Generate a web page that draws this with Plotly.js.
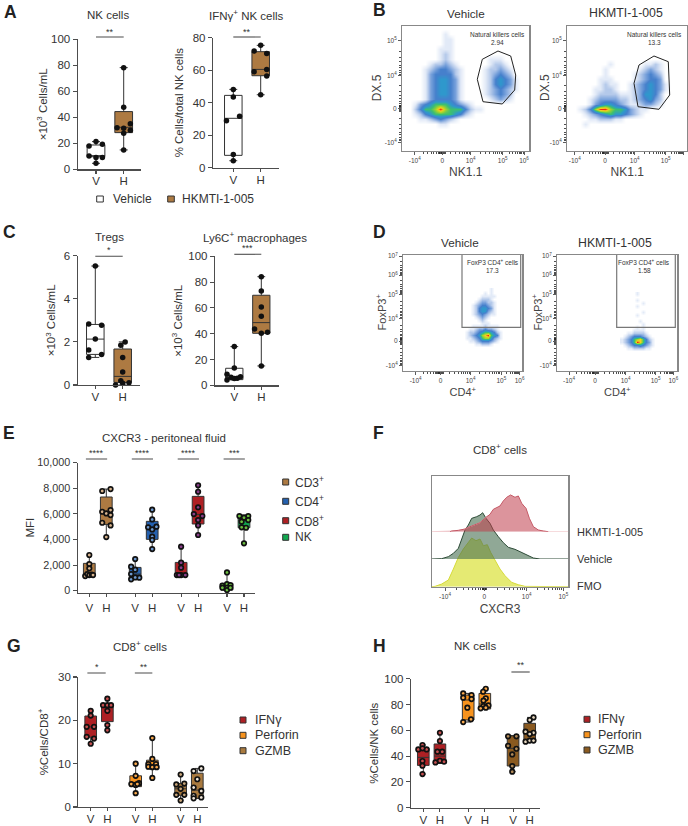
<!DOCTYPE html>
<html><head><meta charset="utf-8">
<script src="https://cdn.plot.ly/plotly-3.0.1.min.js"></script>
<style>html,body{margin:0;padding:0;background:#fff}</style></head>
<body><div id="chart" style="width:688px;height:826px"></div>
<script>
// ---------- DATA: box stats are [low, q1, median, q3, high]; dx = horizontal spread of the dots
const nkV=[21.3,18,19.2,10.3,9,9,4.6], nkVdx=[0,-.25,.23,-.25,.23,0,0], nkVbox=[4.6,9.7,10.5,18.7,21.3];
const nkH=[78.2,47.7,32,31.5,35,30,27.7,14.9], nkHdx=[0,0,-.24,0,.24,.24,0,0], nkHbox=[14.9,28.2,32.3,44.4,78.2];
const ifnV=[48.2,43.5,28.9,31.6,8.2,4.3], ifnVdx=[0,0,-.25,.23,0,0], ifnVbox=[4.3,7.6,30.4,44.5,48.2];
const ifnH=[75.3,71.8,70.2,59,60.5,56.4,44.9], ifnHdx=[0,-.24,.22,-.24,.22,.22,0], ifnHbox=[44.9,56.6,60.5,71.4,75.3];
const trV=[5.52,2.83,2.77,2.13,1.62,1.42,1.28], trVdx=[0,-.24,.23,0,-.24,.23,-.24], trVbox=[1.28,1.42,2.13,2.81,5.52];
const trH=[2,1.84,1.28,.6,.2,0,.08,.11], trHdx=[.09,-.07,0,0,-.07,-.26,0,.23], trHbox=[0,.12,.4,1.67,2];
const lyV=[30,13.4,8.5,4.1,6.2,5.2,5.4,6.7], lyVdx=[0,0,-.27,-.27,-.12,0,.11,.23], lyVbox=[4.1,4.4,6,13.2,30];
const lyH=[84.2,73.1,60.7,53.5,43.7,40.3,41.1,15], lyHdx=[0,0,0,0,-.25,0,.23,0], lyHbox=[15,40.3,48.6,69.8,84.2];

const cd3V=[2790,2080,1745,1145,1300,1220,1250,1220], cd3Vdx=[0,0,0,-.24,-.12,0,.14,.22], cd3Vbox=[1145,1145,1300,2135,2790];
const cd3H=[7940,7790,6170,6300,6040,5910,5310,5100,4190], cd3Hdx=[.25,-.24,-.24,.25,0,.25,-.24,.25,0], cd3Hbox=[4190,5180,6120,7320,7940];
const cd4V=[2470,1875,1640,1300,885,1015,1040], cd4Vdx=[0,-.24,0,-.24,-.24,.24,0], cd4Vbox=[885,940,1300,1820,2470];
const cd4H=[6330,5570,5000,4950,4790,4220,3960,3255], cd4Hdx=[0,0,.25,-.24,0,0,0,0], cd4Hbox=[3255,4010,4870,5420,6330];
const cd8V=[3440,2190,1800,1220,1220,1220,1220], cd8Vdx=[0,0,0,-.25,0,.25,-.12], cd8Vbox=[1100,1100,1300,2210,3440];
const cd8H=[8230,7730,6510,5990,5830,5520,5100,4350], cd8Hdx=[0,0,0,-.25,.25,0,0,0], cd8Hbox=[4350,5210,5960,7370,8230];
const mfiNkV=[1430,390,520,440,230,230,50,230], mfiNkVdx=[0,-.27,0,.2,-.27,0,0,.2], mfiNkVbox=[50,50,310,570,1430];
const mfiNkH=[3700,5830,5830,5700,5520,5390,4950,4920], mfiNkHdx=[0,-.27,.25,0,.25,-.14,-.14,.12], mfiNkHbox=[3700,4920,5500,5910,5910];

const g1V=[22.2,21.1,18.5,18.5,16.2,15.8,14.6], g1Vdx=[0,0,-.24,.2,-.24,.2,0], g1Vbox=[14.6,16.1,18.5,21,22.2];
const g1H=[25,23.5,23.5,23.5,22.2,18.9,17.7], g1Hdx=[0,-.26,0,.22,0,0,0], g1Hbox=[17.7,19.7,23,23.6,25];
const g2V=[10,7.2,5.3,5.5,5.1,5.3,3.2], g2Vdx=[0,0,-.26,.2,0,.1,0], g2Vbox=[3.2,4.7,5.5,7.2,10];
const g2H=[15.9,11.1,9.9,9.9,9.3,9.2,9.2,6.7], g2Hdx=[0,0,-.24,.22,-.24,0,.26,0], g2Hbox=[6.7,8.8,9.7,10.8,15.9];
const g3V=[7.5,5.2,5.4,4.2,2.8,2.8,1.5], g3Vdx=[0,-.26,.22,0,-.26,.22,0], g3Vbox=[1.5,2.7,4.2,5.4,7.5];
const g3H=[8.9,8.3,6.4,4.5,3.7,2.6,2,2.2], g3Hdx=[.24,-.22,0,-.22,.24,-.22,-.22,.24], g3Hbox=[2,2,3.9,7.8,8.9];

const h1V=[48.6,45.2,45.2,46,36.2,32.6,26.1], h1Vdx=[-.05,-.3,.2,-.05,-.05,-.05,-.05], h1Vbox=[26.1,32.8,39,46,48.6];
const h1H=[58.1,51.7,43.4,43.4,35.1,36.4,35.7], h1Hdx=[0,0,-.15,.14,-.27,0,.25], h1Hbox=[34.4,34.4,40,49.4,58.1];
const h2V=[88.6,87.3,85.3,84.2,77.5,68.5,66.4], h2Vdx=[-.3,.2,-.3,.2,-.05,.17,-.3], h2Vbox=[66.4,68,83.5,87.3,88.6];
const h2H=[92.2,89.9,84.8,83,79.3,78.8,77,77.5], h2Hdx=[.06,-.1,.06,-.08,.22,-.08,-.25,.06], h2Hbox=[76.5,76.5,80.4,88.6,92.2];
const h3V=[55.3,55.3,48,45.7,41.3,32.3,27.9], h3Vdx=[-.3,.2,-.3,.2,-.05,-.05,-.05], h3Vbox=[27.9,32.3,46,55.8,55.8];
const h3H=[70,68,58.9,58.1,57.1,51.2,52,52], h3Hdx=[.23,0,-.25,.23,0,-.25,0,.23], h3Hbox=[51.2,51.2,58,65.4,70];

// Flow cytometry density grids (0 = empty … 9 = hottest), rows top to bottom
const bVehicle=[
"0000000000000000000000000","0000000010000000000000000","0000000011000000000000000","0000000011000000000000000",
"0000000111000000000000000","0000000121000000000000000","0000000121000000011100000","0000012232100000012210000",
"0000123443210000122321000","0000134444210000123432000","0000134554310000124543100","0000134554310000124543100",
"0000134554310000123432100","0000134554310000123432000","0000134444310000012321000","0013456665432100000000000",
"0024667976664211000000000","0012456666542100000000000","0001123432100000000000000","0000000110000000000000000",
"0000000000000000000000000","0000000000000000000000000","0000000000000000000000000","0000000000000000000000000","0000000000000000000000000"];
const bHkmti=[
"000000000000000000000000","000000000000000000000000","000000000000000000000000","000000000000000000000000",
"000000000000000000000000","000000000000000000000000","000000000000000000000000","000000001000000112100000",
"000000010000001232100000","000000010000012343200000","000000111000012344300000","000000121100123454310000",
"000001122100123454310000","000001222211123554200000","000012333322123453200000","000013455432112332100000",
"001247997665321100000000","000123456554321000000000","000011222110000000000000","000100000000000000000000",
"000000000000000000000000","000000000000000000000000","000000000000000000000000","000000000000000000000000"];
const dVehicle=[
"000000000100000","000000010100000","000000111110000","000001222100000","000012332210000","000123443210000",
"000124554310000","000124553210000","000123432110000","000012321000000","000001210000000","000000111000000",
"000111121111000","001123343321000","012234566542100","012345789654100","011234677532100","001123444321000",
"000011222100000","000000000000000"];
const dHkmti=[
"0000010000000","0000000000000","0000010000000","0000000100000","0000010000000","0000000000000","0000000100000",
"0000010000000","0000000000000","0000001000000","0000000100000","0000010100000","0000111100000","0011222210000",
"0123444321000","1234678642100","1234698643100","0123445432100","0011222211000","0000000000000"];
const gateBVehicleX=[95.7,108.4,113.4,112.4,100,80.7,75,80,95.7], gateBVehicleY=[25,30,49,64,78,75.7,53.3,33.3,25];
const gateBHkmtiX=[86.7,101,102.4,91.7,70.7,66.7,71.7,86.7], gateBHkmtiY=[30,35.7,69,83.3,80.7,57.3,39,30];
const gateDVehicleX=[58.7,58.7,117.4,117.4], gateDVehicleY=[0,72.3,72.3,0];
const gateDHkmtiX=[59.4,59.4,118,118], gateDHkmtiY=[0,72.3,72.3,0];

// CXCR3 histograms (channel, height)
const histHkX=[0,55,60,80,100,110,125,145,163,175,185,195,205,215,225,237,250,260,270,283,293,305,320,335,350,410];
const histHkY=[0,0,2,4,8,13,20,27,43,52,67,73,77,92,103,110,103,107,85,70,40,15,5,2,0,0];
const histVehX=[0,5,30,50,65,80,90,100,110,120,135,145,153,163,175,185,200,215,230,250,265,285,305,325,410];
const histVehY=[0,0,1,7,17,32,57,87,102,122,127,132,139,122,107,87,67,49,35,29,22,12,3,0,0];
const histFmoX=[0,10,30,50,65,80,95,110,120,133,145,155,167,177,190,205,220,240,260,280,410];
const histFmoY=[0,1,8,20,53,88,113,133,146,138,143,123,126,103,78,53,33,13,6,1,0];

const legendE=['CD3<sup>+</sup>','CD4<sup>+</sup>','CD8<sup>+</sup>','NK'];
const legendCyt=['IFNγ','Perforin','GZMB'];

// ---------- STYLES
const W=688,H=826,FONT='"Liberation Sans",Arial,sans-serif',AX='#4d4d4d',TXT='#333333';
const BROWN='#ad7a42',BLUE='#2460ae',RED='#ae2024',GREEN='#12a850',ORANGE='#f7931e',BROWN2='#a97a3f',BROWN3='#8a5a20';
const traces=[],shapes=[],ann=[],layout={};
const xd=(a,b)=>[a/W,b/W], yd=(t,b)=>[1-b/H,1-t/H];
function T(text,x,y,size,o){ann.push(Object.assign({text,x:x/W,y:1-y/H,xref:'paper',yref:'paper',showarrow:false,
  xanchor:'center',yanchor:'middle',font:{size,color:TXT,family:FONT}},o||{}));}
function Sig(x0,x1,y,sy,s,xa){
  shapes.push({type:'line',xref:xa,yref:'paper',x0,x1,y0:1-y/H,y1:1-y/H,line:{color:AX,width:1.1}});
  ann.push({text:s,x:(x0+x1)/2,y:1-sy/H,xref:xa,yref:'paper',showarrow:false,yanchor:'middle',font:{size:9,color:TXT,family:FONT}});
}
function Sq(l,r,t,b,c){shapes.push({type:'rect',xref:'paper',yref:'paper',x0:l/W,x1:r/W,y0:1-b/H,y1:1-t/H,fillcolor:c,line:{color:'#333',width:1}});}

// box panel
function boxPanel(n,g){
  const xa='xaxis'+n,ya='yaxis'+n;
  const s=(g.px[1]-g.px[0])/(g.pos[g.pos.length-1]-g.pos[0]);
  const xmin=g.pos[0]-(g.px[0]-g.l)/s, xmax=g.pos[g.pos.length-1]+(g.r-g.px[1])/s;
  const labs=g.pos.map((_,i)=>i%2?'H':'V');
  layout[xa]={domain:xd(g.l,g.r),range:[xmin,xmax],anchor:'y'+n,tickmode:'array',tickvals:g.pos,ticktext:labs,
    showgrid:false,zeroline:false,showline:true,linecolor:AX,linewidth:1.2,ticks:'outside',ticklen:3,tickcolor:AX,tickwidth:1.1,
    ticklabelstandoff:g.lso||0,tickfont:{size:11.5,color:TXT,family:FONT}};
  layout[ya]={domain:yd(g.top,g.bot),range:g.yr,anchor:'x'+n,tickmode:'array',tickvals:g.yt,ticktext:g.ytxt||g.yt.map(String),
    showgrid:false,zeroline:false,showline:true,linecolor:AX,linewidth:1.2,ticks:'outside',ticklen:4,tickcolor:AX,tickwidth:1.1,
    tickfont:{size:g.ytf||11.5,color:TXT,family:FONT},
    title:{text:g.yt_title,standoff:g.so,font:{size:g.ttf||11.5,color:TXT,family:FONT}}};
  g.sets.forEach((d,i)=>{
    const p=g.pos[i],b=d.box;
    traces.push({type:'box',x:[p],lowerfence:[b[0]],q1:[b[1]],median:[b[2]],q3:[b[3]],upperfence:[b[4]],
      width:g.bw,whiskerwidth:.45,fillcolor:d.fill,line:{color:'#333',width:1},boxpoints:false,showlegend:false,
      xaxis:'x'+n,yaxis:'y'+n,hoverinfo:'skip'});
    traces.push({type:'scatter',mode:'markers',x:d.y.map((_,k)=>p+d.dx[k]*g.dxs),y:d.y,cliponaxis:false,showlegend:false,
      marker:{size:g.ms,color:d.dot,line:{color:'#111',width:g.mlw}},xaxis:'x'+n,yaxis:'y'+n,hoverinfo:'skip'});
  });
}
const D=(y,dx,box,fill,dot)=>({y,dx,box,fill,dot});

boxPanel(1,{l:77.7,r:141,top:39.3,bot:169.3,pos:[1,2],px:[96,123.7],yr:[0,100],yt:[0,20,40,60,80,100],lso:-2,
  yt_title:'×10<sup>3</sup> Cells/mL',so:1,bw:.64,dxs:1,ms:5.5,mlw:0,
  sets:[D(nkV,nkVdx,nkVbox,'#fff','#111'),D(nkH,nkHdx,nkHbox,BROWN,'#111')]});
boxPanel(2,{l:213,r:278.7,top:37.7,bot:167.7,pos:[1,2],px:[233.3,260.7],yr:[0,80],yt:[0,20,40,60,80],lso:-2,
  yt_title:'% Cells/total NK cells',so:6,bw:.64,dxs:1,ms:5.5,mlw:0,
  sets:[D(ifnV,ifnVdx,ifnVbox,'#fff','#111'),D(ifnH,ifnHdx,ifnHbox,BROWN,'#111')]});
boxPanel(3,{l:77.7,r:140,top:255.7,bot:385,pos:[1,2],px:[95.3,122.7],yr:[0,6],yt:[0,2,4,6],lso:-2,
  yt_title:'×10<sup>3</sup> Cells/mL',so:5,bw:.64,dxs:1,ms:5.5,mlw:0,
  sets:[D(trV,trVdx,trVbox,'#fff','#111'),D(trH,trHdx,trHbox,BROWN,'#111')]});
boxPanel(4,{l:215,r:279.3,top:256.3,bot:385.3,pos:[1,2],px:[234.3,261.3],yr:[0,100],yt:[0,20,40,60,80,100],lso:-2,
  yt_title:'×10<sup>3</sup> Cells/mL',so:3,bw:.64,dxs:1,ms:5.5,mlw:0,
  sets:[D(lyV,lyVdx,lyVbox,'#fff','#111'),D(lyH,lyHdx,lyHbox,BROWN,'#111')]});
const P8=[0,1,2.7,3.7,5.4,6.4,8.1,9.1],P6=[0,1,2.7,3.7,5.4,6.4];
boxPanel(5,{l:77.7,r:255,top:462.7,bot:592.7,pos:P8,px:[89.3,244],yr:[-156,10000],yt:[0,2000,4000,6000,8000,10000],ytf:10.8,
  ytxt:['0','2,000','4,000','6,000','8,000','10,000'],yt_title:'MFI',so:0,bw:.69,dxs:1,ms:4.5,mlw:1.7,lso:1,
  sets:[D(cd3V,cd3Vdx,cd3Vbox,BROWN,'#d8b48e'),D(cd3H,cd3Hdx,cd3Hbox,BROWN,'#d8b48e'),
        D(cd4V,cd4Vdx,cd4Vbox,BLUE,'#6f9ad0'),D(cd4H,cd4Hdx,cd4Hbox,BLUE,'#6f9ad0'),
        D(cd8V,cd8Vdx,cd8Vbox,RED,'#8a3f8a'),D(cd8H,cd8Hdx,cd8Hbox,RED,'#8a3f8a'),
        D(mfiNkV,mfiNkVdx,mfiNkVbox,GREEN,'#6cc040'),D(mfiNkH,mfiNkHdx,mfiNkHbox,GREEN,'#6cc040')]});
boxPanel(6,{l:78.3,r:208.3,top:677,bot:807,pos:P6,px:[90.7,197.3],yr:[0,30],yt:[0,10,20,30],
  yt_title:'%Cells/CD8<sup>+</sup>',so:7,bw:.7,dxs:1,ms:4.5,mlw:1.7,lso:-2,
  sets:[D(g1V,g1Vdx,g1Vbox,RED,'#c65050'),D(g1H,g1Hdx,g1Hbox,RED,'#c65050'),
        D(g2V,g2Vdx,g2Vbox,ORANGE,'#f9a94d'),D(g2H,g2Hdx,g2Hbox,ORANGE,'#f9a94d'),
        D(g3V,g3Vdx,g3Vbox,BROWN2,'#c9a67a'),D(g3H,g3Hdx,g3Hbox,BROWN2,'#f3e9dc')]});
boxPanel(7,{l:411,r:540,top:678.7,bot:807.7,pos:P6,px:[423.3,529.7],yr:[0,100],yt:[0,20,40,60,80,100],
  yt_title:'%Cells/NK cells',so:3,bw:.7,dxs:1,ms:4.5,mlw:1.7,lso:-2,
  sets:[D(h1V,h1Vdx,h1Vbox,RED,'#c65050'),D(h1H,h1Hdx,h1Hbox,RED,'#c65050'),
        D(h2V,h2Vdx,h2Vbox,ORANGE,'#f9a94d'),D(h2H,h2Hdx,h2Hbox,ORANGE,'#f9a94d'),
        D(h3V,h3Vdx,h3Vbox,BROWN3,'#b08a5a'),D(h3H,h3Hdx,h3Hbox,BROWN3,'#e8d8c0')]});

Sig(1,2,37,32,'**','x1');Sig(1,2,37,32,'**','x2');Sig(1,2,256.3,250,'*','x3');Sig(1,2,254.3,247.7,'***','x4');
[[0,1,'****'],[2.7,3.7,'****'],[5.4,6.4,'****'],[8.1,9.1,'***']].forEach(a=>Sig(a[0]-.2,a[1]+.05,459,452.7,a[2],'x5'));
Sig(-.2,.9,673,666.7,'*','x6');Sig(2.65,3.7,673,666.7,'**','x6');Sig(5.3,6.4,672,665,'**','x7');

// flow panels
const THIN='#888';
function minorList(maj){const o=[];
  for(let i=0;i<maj.length-1;i++){for(let k=2;k<10;k++)o.push(maj[i]+(maj[i+1]-maj[i])*Math.log10(k));}
  return o;}
function flowAxes(n,r,xt,xl,yt,yl,xtitle,xso,tf){
  const W1=r.r-r.l,H1=r.b-r.t;
  layout['xaxis'+n]={domain:xd(r.l,r.r),range:[0,W1],anchor:'y'+n,mirror:true,showline:true,linecolor:THIN,linewidth:1.3,
    showgrid:false,zeroline:false,tickmode:'array',tickvals:xt,ticktext:xl,ticks:'outside',ticklen:3,tickcolor:'#333',tickwidth:.8,
    tickfont:{size:6.5,color:'#444',family:FONT},
    minor:{tickmode:'array',tickvals:minorList(xt).concat(r.zx?[-3,-2,-1,1,2,3].map(d=>r.zx+d):[]),ticks:'outside',ticklen:2,tickcolor:'#222',tickwidth:.8},
    title:xtitle?{text:xtitle,standoff:xso,font:{size:tf,color:'#444',family:FONT}}:undefined};
  layout['yaxis'+n]={domain:yd(r.t,r.b),range:[H1,0],anchor:'x'+n,mirror:true,showline:true,linecolor:THIN,linewidth:1.3,
    showgrid:false,zeroline:false,tickmode:'array',tickvals:yt,ticktext:yl,ticks:'outside',ticklen:3,tickcolor:'#333',tickwidth:.8,
    tickfont:{size:6.5,color:'#444',family:FONT},
    minor:{tickmode:'array',tickvals:minorList(yt).concat([-3,-2,-1,1,2,3].map(d=>r.zy+d)),ticks:'outside',ticklen:2,tickcolor:'#222',tickwidth:.8}};
}
const CS=[[0,'#ffffff'],[1/9,'#e2eaf7'],[2/9,'#b4c9ea'],[3/9,'#7ba3dc'],[4/9,'#4680cc'],[5/9,'#2f98cc'],[6/9,'#3cc070'],[7/9,'#a4d42c'],[8/9,'#f8cf1e'],[1,'#ee2a12']];
function density(n,rows,x0,y0,step){
  const z=rows.map(s=>s.split('').map(Number));
  traces.push({type:'heatmap',z,x:z[0].map((_,i)=>x0+step*i),y:z.map((_,i)=>y0+step*i),zmin:0,zmax:9,zsmooth:'best',
    colorscale:CS,showscale:false,xaxis:'x'+n,yaxis:'y'+n,hoverinfo:'skip'});
}
function gate(n,x,y,c,w){traces.push({type:'scatter',mode:'lines',x,y,line:{color:c,width:w},showlegend:false,xaxis:'x'+n,yaxis:'y'+n,hoverinfo:'skip'});}

const pw=['-10<sup>4</sup>','0','10<sup>4</sup>','10<sup>5</sup>','10<sup>6</sup>'];
const by=[14.7,49.7,82.3,116.3],byl=['10<sup>5</sup>','10<sup>4</sup>','0','-10<sup>4</sup>'];
flowAxes(8,{l:402.3,r:529.3,t:26,b:150.7,zx:40,zy:82.3},[12.4,40,68.4,100.4,121.7],pw,by,byl,'NK1.1',4,12);
flowAxes(9,{l:567.3,r:687.3,t:26,b:150.7,zx:37.7,zy:82.3},[7.4,37.7,67.4,98.4,116],pw,by,byl,'NK1.1',4,12);
const dy=[1,20,39.3,63.3,86,110.7],dyl=['10<sup>7</sup>','10<sup>6</sup>','10<sup>5</sup>','10<sup>4</sup>','0','-10<sup>4</sup>'];
flowAxes(10,{l:403.3,r:522.3,t:255,b:371,zx:37.3,zy:86},[12.3,37.3,67.3,98,116.3],pw,dy,dyl,'CD4<sup>+</sup>',5,11);
flowAxes(11,{l:557.3,r:677.3,t:255,b:371,zx:37.7,zy:86},[11.7,37.7,68.3,98.3,116],pw,dy,dyl,'CD4<sup>+</sup>',5,11);
T('DX.5',377.3,88,12,{textangle:-90,font:{size:12,color:'#444',family:FONT}});
T('DX.5',545,88,12,{textangle:-90,font:{size:12,color:'#444',family:FONT}});
T('FoxP3<sup>+</sup>',380.7,311.7,11,{textangle:-90,font:{size:11,color:'#444',family:FONT}});
T('FoxP3<sup>+</sup>',536.7,311.7,11,{textangle:-90,font:{size:11,color:'#444',family:FONT}});

density(8,bVehicle,2.5,2.5,5);density(9,bHkmti,2.5,2.5,5);
density(10,dVehicle,60.2,34.5,3);density(11,dHkmti,64.2,38.5,3);
gate(8,gateBVehicleX,gateBVehicleY,'#222',1);gate(9,gateBHkmtiX,gateBHkmtiY,'#222',1);
gate(10,gateDVehicleX,gateDVehicleY,'#777',1.2);gate(11,gateDHkmtiX,gateDHkmtiY,'#777',1.2);

// histograms: one x axis, three y scales with different baselines
layout.xaxis12={domain:xd(431.7,568.3),range:[0,410],anchor:'y12',mirror:true,showline:true,linecolor:THIN,linewidth:1.2,showgrid:false,zeroline:false,
  tickmode:'array',tickvals:[40,158,285,395],ticktext:['-10<sup>4</sup>','0','10<sup>4</sup>','10<sup>5</sup>'],ticks:'outside',ticklen:3,tickcolor:'#333',tickwidth:.8,
  tickfont:{size:6.5,color:'#444',family:FONT},
  minor:{tickmode:'array',tickvals:minorList([40,158,285,395]).concat([152,154,156,160,162,164]),ticks:'outside',ticklen:2,tickcolor:'#222',tickwidth:.8},
  title:{text:'CXCR3',standoff:5,font:{size:12,color:'#444',family:FONT}}};
layout.yaxis12={domain:yd(475.7,586.7),range:[0,333],anchor:'x12',mirror:true,showline:true,linecolor:THIN,linewidth:1.2,showgrid:false,zeroline:false,showticklabels:false,ticks:''};
layout.yaxis13={domain:yd(475.7,559),range:[0,250],anchor:'x12',visible:false};
layout.yaxis14={domain:yd(475.7,531.7),range:[0,168],anchor:'x12',visible:false};
const area=(x,y,ya,fill,line)=>traces.push({type:'scatter',mode:'lines',x,y,fill:'tozeroy',fillcolor:fill,line:{color:line,width:1},
  xaxis:'x12',yaxis:ya,showlegend:false,hoverinfo:'skip'});
area(histFmoX,histFmoY,'y12','rgba(226,232,100,.9)','#d5da3a');
area(histVehX,histVehY,'y13','rgba(70,110,80,.6)','#2c4a36');
area(histHkX,histHkY,'y14','rgba(192,60,75,.55)','#f0c4c8');
traces.push({type:'scatter',mode:'lines',x:histHkX.slice(1,-1),y:histHkY.slice(1,-1),line:{color:'#bd4a58',width:.9},xaxis:'x12',yaxis:'y14',showlegend:false,hoverinfo:'skip'});

// text
T('NK cells',107.7,14.7,11.5);T('IFNγ<sup>+</sup> NK cells',246.7,14.7,11.5);
T('Vehicle',465.7,13,11.7);T('HKMTI-1-005',625.7,13,12.3);
T('Tregs',109.3,236.7,11.5);T('Ly6C<sup>+</sup> macrophages',255,236.7,11.5);
T('Vehicle',460.3,242.7,11.7);T('HKMTI-1-005',614.7,242.7,12.3);
T('CXCR3 - peritoneal fluid',164,438,11.5);T('CD8<sup>+</sup> cells',500,449,11.5);
T('CD8<sup>+</sup> cells',140,646,11.5);T('NK cells',475,646,11.5);
[['A',2,11.7],['B',370.7,10.5],['C',1,231.5],['D',370.7,231.5],['E',1,433],['F',371,433],['G',5,646],['H',370.7,646]]
  .forEach(a=>T('<b>'+a[0]+'</b>',a[1],a[2],17.5,{xanchor:'left',font:{size:17.5,color:'#222',family:FONT}}));
T('Natural killers cells',497.3,34.3,6.5);T('2.94',497.3,42.7,6.5);
T('Natural killers cells',654.7,34.3,6.5);T('13.3',654.7,42.7,6.5);
T('FoxP3 CD4<sup>+</sup> cells',492.7,262.3,6.5);T('17.3',492.7,270.7,6.5);
T('FoxP3 CD4<sup>+</sup> cells',644,262.3,6.5);T('1.58',644,270.7,6.5);
T('HKMTI-1-005',575,531.7,11,{xanchor:'left'});T('Vehicle',575,559,11,{xanchor:'left'});T('FMO',575,586,11,{xanchor:'left'});

// legends
Sq(96.7,103.3,196,202,'#fff');T('Vehicle',111,199,12,{xanchor:'left'});
Sq(167.7,174.3,196,202,BROWN);T('HKMTI-1-005',180,199,12,{xanchor:'left'});
[BROWN,BLUE,RED,GREEN].forEach((c,i)=>{const y=[482,501.3,520.7,537.3][i];Sq(282.7,288.7,y-3,y+3,c);T(legendE[i],293,y,12,{xanchor:'left'});});
[RED,ORANGE,BROWN2].forEach((c,i)=>{const y=[720,735.3,750.7][i];Sq(240,246,y-3,y+3,c);T(legendCyt[i],253,y,12.5,{xanchor:'left'});});
[RED,ORANGE,BROWN3].forEach((c,i)=>{const y=[719.3,734.7,750][i];Sq(584,590,y-3,y+3,c);T(legendCyt[i],596.3,y,12.5,{xanchor:'left'});});

Object.assign(layout,{width:W,height:H,margin:{l:0,r:0,t:0,b:0},paper_bgcolor:'#fff',plot_bgcolor:'rgba(0,0,0,0)',
  showlegend:false,shapes,annotations:ann,font:{family:FONT,color:TXT}});
Plotly.newPlot('chart',traces,layout,{staticPlot:true,displayModeBar:false});
</script></body></html>
